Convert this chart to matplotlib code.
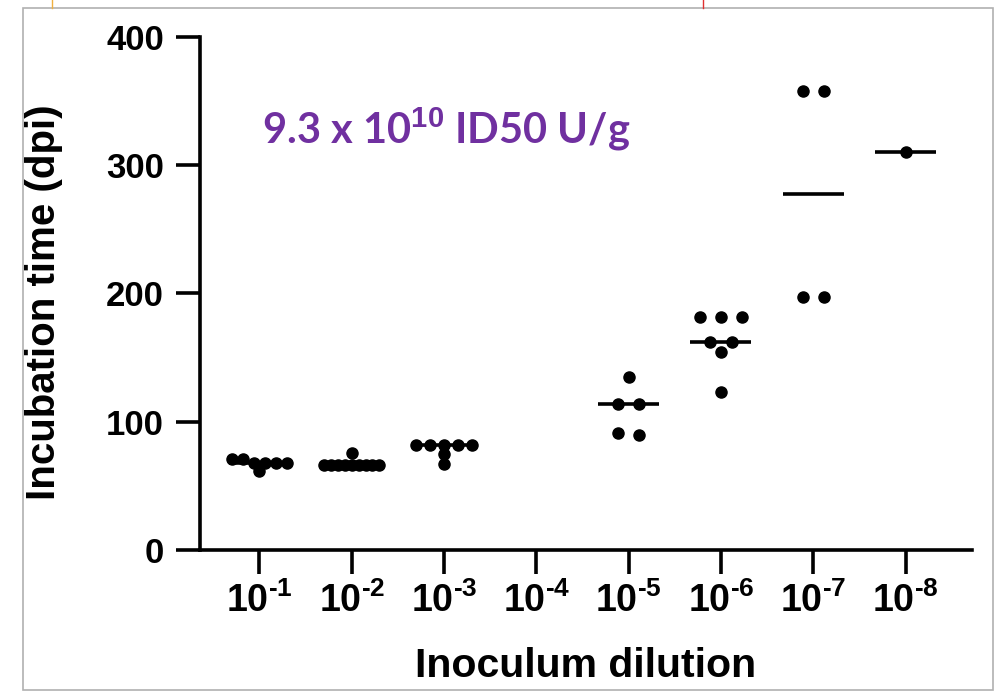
"""
Incubation time vs inoculum dilution (scatter with median lines)
"""

import numpy as np
import matplotlib.pyplot as plt
from matplotlib.patches import Rectangle

plt.rcParams['font.family'] = 'Liberation Sans'
plt.rcParams['mathtext.fontset'] = 'custom'
plt.rcParams['mathtext.rm'] = 'Liberation Sans:bold'
plt.rcParams['mathtext.bf'] = 'Liberation Sans:bold'

# data (days post inoculation)
dilutions = ['-1', '-2', '-3', '-4', '-5', '-6', '-7', '-8']
d1 = [68, 71, 68, 68, 71, 68, 62]
d2 = [66, 66, 66, 66, 66, 66, 66, 66, 66, 76]
d3 = [82, 82, 82, 82, 82, 75, 67]
d4 = []
d5 = [135, 114, 114, 91, 90]
d6 = [182, 182, 182, 162, 162, 154, 123]
d7 = [358, 358, 197, 197]
d8 = [310]
groups = [d1, d2, d3, d4, d5, d6, d7, d8]

annot = r'9.3 x 10$^{10}$ ID50 U/g'


def swarm_offsets(vals, tol=6, max_width=0.6, max_gap=0.23):
    # put close values in one row and spread each row symmetrically
    vals = sorted(vals, reverse=True)
    rows = []
    for v in vals:
        if rows and rows[-1][0] - v <= tol:
            rows[-1].append(v)
        else:
            rows.append([v])
    xs, ys = [], []
    for r in rows:
        n = len(r)
        gap = max_gap if n < 2 else min(max_gap, max_width / (n - 1))
        for i, v in enumerate(r):
            xs.append((i - (n - 1) / 2) * gap)
            ys.append(v)
    return np.array(xs), np.array(ys)


fig = plt.figure(figsize=(9.99, 6.95), dpi=100)
ax = fig.add_axes([0.2002, 0.2086, 0.7728, 0.7382])

for i, g in enumerate(groups):
    pos = i + 1
    if len(g) == 0:
        continue
    dx, yy = swarm_offsets(g)
    ax.plot(pos + dx, yy, 'o', color='black', markersize=8, zorder=3)
    ax.plot([pos - 0.33, pos + 0.33], [np.median(g)] * 2, color='black',
            lw=2.6, solid_capstyle='butt', zorder=2)

ax.set_xlim(0.357, 8.72)
ax.set_ylim(0, 400)
ax.set_xticks(range(1, 9))
ax.set_xticklabels([r'$10^{\text{%s}}$' % d for d in dilutions])
ax.set_yticks([0, 100, 200, 300, 400])
ax.tick_params(axis='both', width=2.6, length=17)
ax.tick_params(axis='y', labelsize=25, pad=9)
ax.tick_params(axis='x', labelsize=27, pad=6)
for lab in ax.get_yticklabels():
    lab.set_fontweight('bold')
for s in ['top', 'right']:
    ax.spines[s].set_visible(False)
for s in ['left', 'bottom']:
    ax.spines[s].set_linewidth(2.6)

ax.set_ylabel('Incubation time (dpi)', fontsize=29, fontweight='bold', labelpad=31, y=0.483)
ax.set_xlabel('Inoculum dilution', fontsize=29.5, fontweight='bold', labelpad=20)

ax.text(0.08, 0.82, annot, transform=ax.transAxes, fontsize=30,
        fontweight='bold', color='#7030A0', family='Lato', va='center')

# outer frame of the screenshot
fig.patches.append(Rectangle((0.023, 0.007), 0.971, 0.981, transform=fig.transFigure,
                             fill=False, edgecolor='#b0b0b0', lw=1.2))
fig.lines.append(plt.Line2D([0.052, 0.052], [0.988, 1.0], transform=fig.transFigure,
                            color='#f0b040', lw=1))
fig.lines.append(plt.Line2D([0.7035, 0.7035], [0.988, 1.0], transform=fig.transFigure,
                            color='#e03030', lw=1))

plt.savefig('out.png', dpi=100)
